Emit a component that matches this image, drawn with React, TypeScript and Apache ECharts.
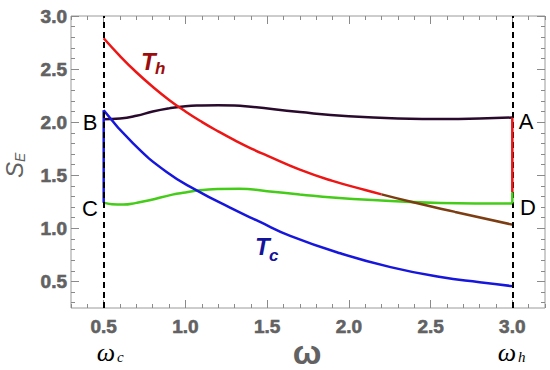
import React, { useEffect, useRef } from "react";
import * as echarts from "echarts";

// ---- data ----
const majorX = [0.5, 1.0, 1.5, 2.0, 2.5, 3.0];
const majorY = [0.5, 1.0, 1.5, 2.0, 2.5, 3.0];

const thOmega = [0.5, 0.6, 0.7, 0.8, 0.9, 1.0, 1.1, 1.2, 1.3, 1.4, 1.5, 1.7, 1.9, 2.1, 2.2];
const thValues = [2.79, 2.6225, 2.47, 2.333, 2.21, 2.101, 2.003, 1.914, 1.831, 1.754, 1.685, 1.553, 1.447, 1.361, 1.32];
const thTailOmega = [2.2, 2.4, 2.65, 3.0];
const thTailValues = [1.32, 1.243, 1.155, 1.035];

const tcOmega = [0.5, 0.68, 0.885, 1.069, 1.273, 1.45, 1.641, 1.948, 2.255, 2.561, 2.8, 3.0];
const tcValues = [2.113, 1.8, 1.531, 1.358, 1.195, 1.065, 0.93, 0.765, 0.635, 0.541, 0.492, 0.456];

const baOmega = [0.5, 0.6, 0.7, 0.8, 0.9, 1.0, 1.1, 1.2, 1.3, 1.4, 1.7, 2.0, 2.3, 2.6, 2.8, 3.0];
const baValues = [2.028, 2.035, 2.06, 2.1, 2.13, 2.151, 2.158, 2.16, 2.158, 2.145, 2.095, 2.055, 2.035, 2.03, 2.035, 2.044];

const cdOmega = [0.5, 0.55, 0.62, 0.7, 0.78, 0.92, 1.0, 1.09, 1.2, 1.33, 1.5, 1.7, 1.9, 2.2, 2.56, 3.0];
const cdValues = [1.242, 1.228, 1.224, 1.24, 1.264, 1.318, 1.338, 1.358, 1.37, 1.374, 1.35, 1.32, 1.29, 1.262, 1.239, 1.233];

const leftJumpOmega = [0.5, 0.5];
const leftJumpValues = [1.242, 2.113];
const rightJumpOmega = [3.0, 3.0];
const rightJumpValues = [2.044, 1.34];
const rightGreenOmega = [3.0, 3.0];
const rightGreenValues = [1.34, 1.233];

const cycleLines = [0.5, 3.0];

const pair = (xs: number[], ys: number[]) => xs.map((x, i) => [x, ys[i]]);
const range = (a: number, b: number, s: number) => {
  const out: number[] = [];
  for (let v = a; v <= b + 1e-9; v += s) out.push(Math.round(v * 100) / 100);
  return out;
};

const minorX = range(0.3, 3.2, 0.1);
const minorY = range(0.3, 3.0, 0.1);

const GRAY = "#626262";
const TICK = "#8a8a8a";
const FONT = "Liberation Sans, Arial, sans-serif";
const SERIF = "Liberation Serif, Times New Roman, serif";

const labelStyle = {
  color: GRAY,
  fontSize: 19,
  fontWeight: "bold",
  fontFamily: FONT,
  textBorderColor: GRAY,
  textBorderWidth: 0.6,
};

function makeX(position: "top" | "bottom", ticks: number[], len: number, labels: boolean) {
  return {
    type: "value",
    min: 0.3,
    max: 3.2,
    position,
    axisLine: { show: false },
    splitLine: { show: false },
    axisTick: { show: true, inside: true, length: len, customValues: ticks, lineStyle: { color: TICK, width: 1 } },
    axisLabel: labels
      ? { show: true, customValues: majorX, formatter: (v: number) => v.toFixed(1), margin: 9, ...labelStyle }
      : { show: false },
  };
}

function makeY(position: "left" | "right", ticks: number[], len: number, labels: boolean) {
  return {
    type: "value",
    min: 0.25,
    max: 3.0,
    position,
    axisLine: { show: false },
    splitLine: { show: false },
    axisTick: { show: true, inside: true, length: len, customValues: ticks, lineStyle: { color: TICK, width: 1 } },
    axisLabel: labels
      ? { show: true, customValues: majorY, formatter: (v: number) => v.toFixed(1), margin: 4, ...labelStyle }
      : { show: false },
  };
}

function lineSeries(data: number[][], color: string, smooth: number | boolean, z = 3) {
  return {
    type: "line",
    data,
    xAxisIndex: 0,
    yAxisIndex: 0,
    showSymbol: false,
    symbol: "none",
    smooth,
    z,
    lineStyle: { color, width: 2.5 },
    silent: true,
  };
}

const txt = (x: number, y: number, text: string, size: number, fill: string, extra: any = {}) => ({
  type: "text",
  x,
  y,
  style: { text, fontSize: size, fontFamily: FONT, fill, align: "center", verticalAlign: "middle", ...extra },
});

export default function App() {
  const ref = useRef<HTMLDivElement>(null);
  useEffect(() => {
    if (!ref.current) return;
    const chart = echarts.init(ref.current, undefined, { renderer: "svg" });
    const option: any = {
      animation: false,
      backgroundColor: "#ffffff",
      grid: { left: 71, right: 5, top: 16, bottom: 62, show: true, borderColor: "#9a9a9a", borderWidth: 1 },
      xAxis: [
        makeX("bottom", majorX, 8, true),
        makeX("bottom", minorX, 4, false),
        makeX("top", majorX, 8, false),
        makeX("top", minorX, 4, false),
      ],
      yAxis: [
        makeY("left", majorY, 8, true),
        makeY("left", minorY, 4, false),
        makeY("right", majorY, 8, false),
        makeY("right", minorY, 4, false),
      ],
      series: [
        {
          type: "line",
          data: [],
          xAxisIndex: 0,
          yAxisIndex: 0,
          z: 5,
          markLine: {
            silent: true,
            symbol: ["none", "none"],
            label: { show: false },
            lineStyle: { color: "#000000", type: [6, 4], width: 2 },
            data: cycleLines.map((v) => ({ xAxis: v })),
          },
        },
        lineSeries(pair(cdOmega, cdValues), "#44cc18", true),
        lineSeries(pair(baOmega, baValues), "#2a0a2c", true),
        lineSeries(pair(tcOmega, tcValues), "#1616dd", true),
        lineSeries(pair(thOmega, thValues), "#ee1515", true, 4),
        lineSeries(pair(thTailOmega, thTailValues), "#7d3d12", true, 4),
        lineSeries(pair(leftJumpOmega, leftJumpValues), "#1616dd", false),
        lineSeries(pair(rightJumpOmega, rightJumpValues), "#ee1515", false, 6),
        lineSeries(pair(rightGreenOmega, rightGreenValues), "#44cc18", false, 6),
      ],
      graphic: [
        txt(90, 122, "B", 22, "#000"),
        txt(90, 208, "C", 22, "#000"),
        txt(526, 121, "A", 22, "#000"),
        txt(528, 207, "D", 22, "#000"),
        txt(141, 61, "T", 24, "#9c0c0c", { fontStyle: "italic", fontWeight: "bold", align: "left" }),
        txt(155, 68, "h", 17, "#9c0c0c", { fontStyle: "italic", fontWeight: "bold", align: "left" }),
        txt(255, 246, "T", 24, "#14149a", { fontStyle: "italic", fontWeight: "bold", align: "left" }),
        txt(269, 255, "c", 17, "#14149a", { fontStyle: "italic", fontWeight: "bold", align: "left" }),
        txt(106, 352, "ω", 26, "#000", { fontStyle: "italic", fontFamily: SERIF }),
        txt(117, 357, "c", 15, "#000", { fontStyle: "italic", fontFamily: SERIF, align: "left" }),
        txt(507, 352, "ω", 26, "#000", { fontStyle: "italic", fontFamily: SERIF }),
        txt(518, 357, "h", 15, "#000", { fontStyle: "italic", fontFamily: SERIF, align: "left" }),
        txt(307, 352, "ω", 34, GRAY, { fontWeight: "bold" }),
        {
          type: "group",
          x: 14,
          y: 170,
          rotation: Math.PI / 2,
          children: [
            txt(0, 0, "S", 24, GRAY, { fontStyle: "italic" }),
            txt(8, 6, "E", 14, GRAY, { fontStyle: "italic", align: "left" }),
          ],
        },
      ],
    };
    chart.setOption(option);
    return () => chart.dispose();
  }, []);
  return <div ref={ref} style={{ position: "fixed", left: 0, top: 0, width: 550, height: 370 }} />;
}
